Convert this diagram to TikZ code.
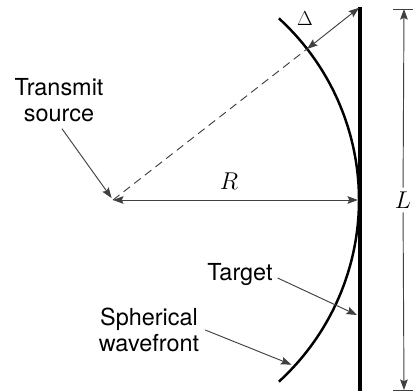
\documentclass[tikz,border=0pt]{standalone}
\usepackage{fontspec}
\setsansfont{TeX Gyre Heros}
\usetikzlibrary{arrows.meta,calc}

\begin{document}
\begin{tikzpicture}[x=0.03cm, y=-0.03cm,
  every node/.style={font=\sffamily\fontsize{20}{22}\selectfont, align=center},
  thinline/.style={draw=black!75, line width=0.8pt},
  ptr/.style={thinline, -{Stealth[length=9pt,width=6.5pt,inset=1.5pt]}},
  dim/.style={thinline, {Stealth[length=9pt,width=6.5pt,inset=1.5pt]}-{Stealth[length=9pt,width=6.5pt,inset=1.5pt]}}]
\useasboundingbox (0,0) rectangle (413,391);
\coordinate (src) at (113,200);
\coordinate (ttop) at (360,7);
\coordinate (tbot) at (360,396);
\coordinate (tmid) at (358,200);
\coordinate (hit) at ($(src)+(-37.9:246)$);
\coordinate (wpt) at ($(src)+(42.5:245)$);
\coordinate (tpt) at (357,315);
\coordinate (ltop) at (404,9);
\coordinate (lbot) at (404,390);

% target and wavefront
\draw[line width=3.8pt] (ttop) -- (tbot);
\draw[line width=2.1pt] ($(src)+(-47.6:246)$) arc[start angle=-47.6, end angle=47.6, radius=246];

% labels
\node (srclbl) at (59,100) {Transmit\\source};
\node (tgtlbl) at (240,275) {Target};
\node (wavelbl) at (149,330) {Spherical\\wavefront};
\node (rlbl) at (229,181) {$R$};
\node (dlbl) at (305,19) {\fontsize{18}{20}\selectfont$\Delta$};
\node (llbl) at (403,200) {$L$};

% connectors
\draw[thinline, dash pattern=on 7pt off 4.5pt] (src) -- (hit);
\draw[dim, shorten >=1pt] (hit) -- (ttop);
\draw[dim] (src) -- (tmid);
\draw[ptr, shorten >=2pt] ([shift={(3,3)}]srclbl.south) -- (src);
\draw[ptr] ([shift={(1,3)}]tgtlbl.east) -- (tpt);
\draw[ptr, shorten >=2pt] ([shift={(2,0)}]wavelbl.east) -- (wpt);
\draw[ptr] (llbl) -- (ltop);
\draw[ptr] (llbl) -- (lbot);
\draw[thinline] ($(ltop)+(-11,0)$) -- ($(ltop)+(11,0)$);
\draw[thinline] ($(lbot)+(-11,0)$) -- ($(lbot)+(11,0)$);
\end{tikzpicture}
\end{document}
